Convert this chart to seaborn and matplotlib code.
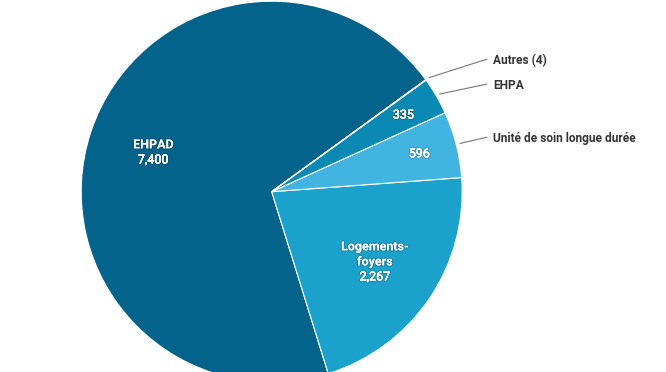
import numpy as np
import seaborn as sns
import matplotlib.pyplot as plt
import matplotlib.patheffects as pe

# data, counter-clockwise from EHPAD
categories = ["EHPAD", "Logements-foyers", "Unité de soin longue durée", "EHPA", "Autres (4)"]
values = [7400, 2267, 596, 335, 4]
inside_names = {0: ["EHPAD"], 1: ["Logements-", "foyers"]}
colors = ["#03638b", "#1aa1cc", "#42b4e2", "#0a89b4", "#0a6f99"]

sns.set_theme(style="white")
plt.rcParams['font.family'] = ['Roboto', 'DejaVu Sans']

fig = plt.figure(figsize=(6.66, 3.72), dpi=100)
ax = fig.add_axes([0, 0, 1, 1])

wedges, _ = ax.pie(values, colors=sns.color_palette(colors), startangle=36,
                   counterclock=True, radius=1.0,
                   wedgeprops=dict(edgecolor="white", linewidth=0.8))

# scale: 190.5 px per data unit, pie centre at (271.7, 191.7) px
ax.set_xlim(-271.7 / 190.5, (666 - 271.7) / 190.5)
ax.set_ylim(-(372 - 191.7) / 190.5, 191.7 / 190.5)
ax.set_aspect("auto")
ax.axis("off")

def mid(w):
    a = np.deg2rad((w.theta1 + w.theta2) / 2)
    return np.cos(a), np.sin(a)

# slight shadow + thickening, like the web rendering
shadow = [pe.withStroke(linewidth=1.6, foreground=(0, 0, 0, 0.18))]
thick = [pe.withStroke(linewidth=1.6, foreground=(0, 0, 0, 0.18)),
         pe.withStroke(linewidth=0.35, foreground="white")]

step = 0.079
# inside labels: name lines bold, value below
for i, names in inside_names.items():
    cx, cy = mid(wedges[i])
    x, y = cx * 0.655, cy * 0.655
    n = len(names) + 1
    top = y + step * (n - 1) / 2
    for k, nm in enumerate(names):
        ax.text(x, top - k * step, nm, ha="center", va="center",
                color="white", fontsize=9, fontweight="bold", path_effects=shadow)
    ax.text(x, top - len(names) * step, f"{values[i]:,}", ha="center", va="center",
            color="white", fontsize=9, path_effects=thick)

for i in (2, 3):
    cx, cy = mid(wedges[i])
    ax.text(cx * 0.80, cy * 0.80, f"{values[i]:,}", ha="center", va="center",
            color="white", fontsize=9, path_effects=thick)

# outside labels with leader lines
label_y = {2: 0.281, 3: 0.560, 4: 0.691}
for i, ly in label_y.items():
    cx, cy = mid(wedges[i])
    ax.plot([cx * 1.02, 1.13], [cy * 1.02, ly + 0.005], color="#777777", lw=0.8)
    ax.text(1.162, ly, categories[i], ha="left", va="center",
            color="#333333", fontsize=8.6, fontweight="bold")

fig.savefig("out.png", dpi=100)
